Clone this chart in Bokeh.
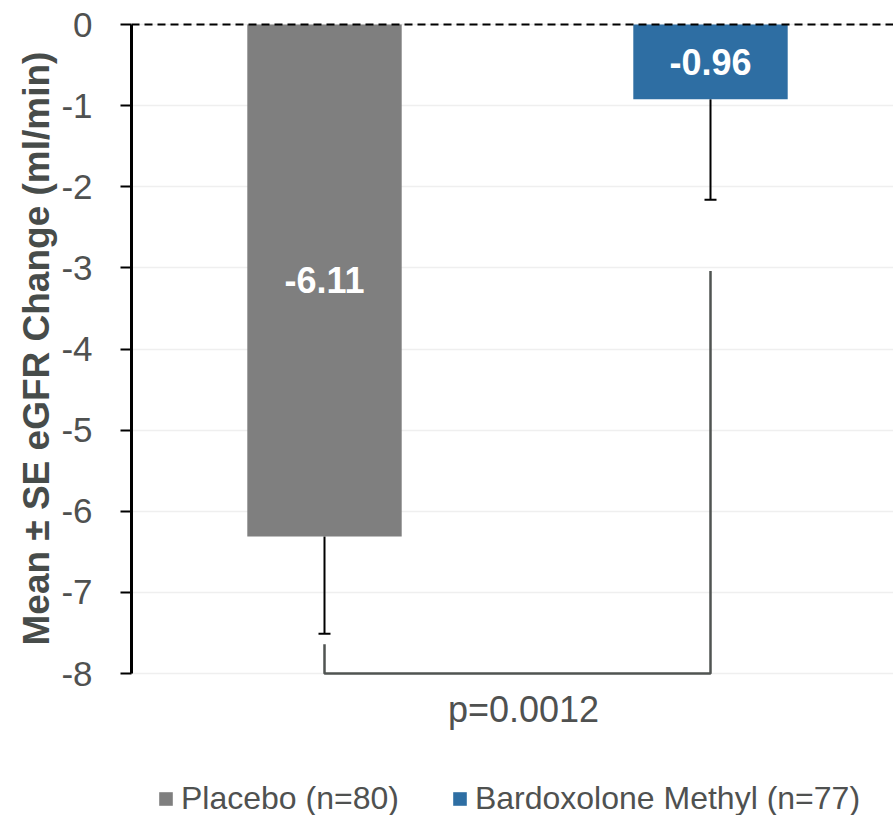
from bokeh.plotting import figure
from bokeh.models import (ColumnDataSource, Range1d, FixedTicker, Span, Whisker,
                          TeeHead, Label, Legend, LegendItem, Title)
from bokeh.core.properties import value
from bokeh.embed import file_html
from bokeh.resources import INLINE

# ---- data ----
groups = ["Placebo (n=80)", "Bardoxolone Methyl (n=77)"]
group_x = [1, 2]
means = [-6.31, -0.92]          # drawn bar ends
se = [1.20, 1.24]               # error bar lengths (downward)
bar_labels = ["-6.11", "-0.96"]
colors = ["#7F7F7F", "#2E6EA3"]
y_ticks = [0, -1, -2, -3, -4, -5, -6, -7, -8]
bracket_x = [1, 1, 2, 2]
bracket_y = [-7.64, -8.0, -8.0, -3.04]
p_text = "p=0.0012"
y_title = "Mean ± SE eGFR Change (ml/min)"

FONT = "Liberation Sans"
TXT = "#4f5150"

W, H = 893, 815
zero_px = 24                    # page position of y = 0
left_border, top_border = 131, 20
px_per_x = 386.0
px_per_y = 81.125
frame_w = W - left_border
frame_h = H - top_border

x0 = 0.5
x1 = x0 + frame_w / px_per_x
y1 = (zero_px - top_border) / px_per_y
y0 = y1 - frame_h / px_per_y

p = figure(width=W, height=H, output_backend="svg", toolbar_location=None,
           x_range=Range1d(x0, x1), y_range=Range1d(y0, y1),
           x_axis_type=None, min_border_left=left_border, min_border_top=top_border,
           min_border_right=0, min_border_bottom=0)
p.outline_line_color = None
p.background_fill_color = "white"
p.border_fill_color = "white"

# grid
p.xgrid.visible = False
p.ygrid.ticker = FixedTicker(ticks=y_ticks)
p.ygrid.grid_line_color = "#EFEFEF"
p.ygrid.grid_line_width = 1.5

# y axis
ax = p.yaxis[0]
ax.ticker = FixedTicker(ticks=y_ticks)
ax.major_label_overrides = {t: str(t) for t in y_ticks}
ax.bounds = (min(y_ticks), max(y_ticks))
ax.axis_line_width = 3
ax.axis_line_color = "black"
ax.major_tick_line_width = 2
ax.major_tick_line_color = "black"
ax.major_tick_out = 11
ax.major_tick_in = 0
ax.minor_tick_line_color = None
ax.major_label_text_font = FONT
ax.major_label_text_font_size = "35px"
ax.major_label_text_color = TXT
ax.major_label_standoff = 28

# y-axis title, placed so it is centred on the axis extent (-8..0)
p.add_layout(Title(text=y_title, align="left", offset=170, standoff=4,
                   text_font=FONT, text_font_size="37px",
                   text_font_style="bold", text_color="#474c4a"), "left")

src = ColumnDataSource(dict(x=group_x, top=[0, 0], bottom=means, color=colors,
                            lower=[m - s for m, s in zip(means, se)], upper=means,
                            label=bar_labels, mid=[m / 2 for m in means], name=groups))

bars = p.vbar(x="x", top="top", bottom="bottom", width=0.4, fill_color="color",
              line_color=None, source=src)

# dashed zero line (drawn over the bars)
p.add_layout(Span(location=0, dimension="width", line_color="black",
                  line_dash="8 5", line_width=2, level="overlay"))

# error bars (downward only)
wh = Whisker(base="x", lower="lower", upper="upper", source=src,
             line_color="black", line_width=2,
             upper_head=None,
             lower_head=TeeHead(size=12, line_color="black", line_width=2))
p.add_layout(wh)

# bar labels
p.text(x="x", y="mid", text="label", source=src, text_color="white",
       text_font=value(FONT), text_font_size="36px", text_font_style="bold",
       text_align="center", text_baseline="middle")

# significance bracket
p.line(bracket_x, bracket_y, line_color="#505452", line_width=2.5)
p.add_layout(Label(x=sum(group_x) / 2, y=-8.44, text=p_text, x_offset=6,
                   text_font=FONT, text_font_size="36px", text_color=TXT,
                   text_align="center", text_baseline="middle"))

# legend
legend = Legend(items=[LegendItem(label=groups[0], renderers=[bars], index=0),
                       LegendItem(label=groups[1], renderers=[bars], index=1)],
                orientation="horizontal", location=(26, -2))
legend.glyph_width = 17
legend.glyph_height = 17
legend.label_standoff = 7
legend.spacing = 52
legend.padding = 0
legend.margin = 0
legend.border_line_color = None
legend.background_fill_alpha = 0
legend.label_text_font = FONT
legend.label_text_font_size = "32px"
legend.label_text_color = TXT
legend.label_text_line_height = 1.0
p.add_layout(legend)

open("out.html", "w").write(file_html(p, INLINE))
